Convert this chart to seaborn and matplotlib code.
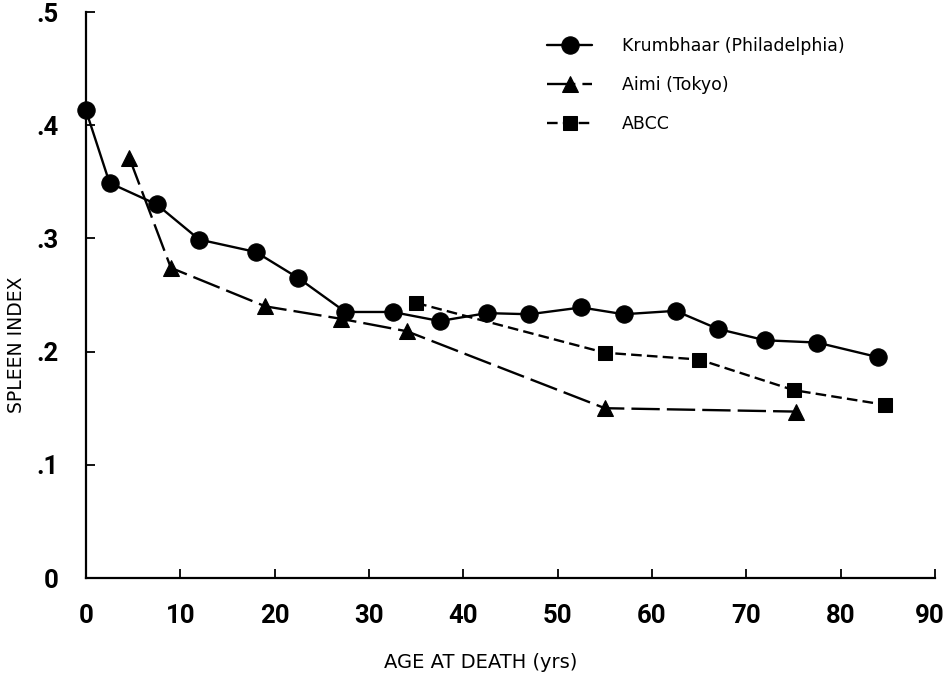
import matplotlib
matplotlib.use("Agg")
import matplotlib.pyplot as plt
import matplotlib.transforms as mtransforms
import seaborn as sns
import pandas as pd
from matplotlib.legend_handler import HandlerLine2D

# ---- data ----
krum_age = [0, 2.5, 7.5, 12, 18, 22.5, 27.5, 32.5, 37.5, 42.5, 47, 52.5, 57, 62.5, 67, 72, 77.5, 84]
krum_idx = [0.413, 0.349, 0.330, 0.299, 0.288, 0.265, 0.235, 0.235, 0.227, 0.234, 0.233, 0.239,
            0.233, 0.236, 0.220, 0.210, 0.208, 0.195]
aimi_age = [4.6, 9, 19, 27, 34, 55, 75.3]
aimi_idx = [0.371, 0.274, 0.240, 0.229, 0.218, 0.150, 0.147]
abcc_age = [35, 55, 65, 75, 84.7]
abcc_idx = [0.243, 0.199, 0.193, 0.166, 0.153]

series_names = ["Krumbhaar (Philadelphia)", "Aimi (Tokyo)", "ABCC"]
xticks = [0, 10, 20, 30, 40, 50, 60, 70, 80, 90]
xtick_labels = ["0", "10", "20", "30", "40", "50", "60", "70", "80", "90"]
yticks = [0, 0.1, 0.2, 0.3, 0.4, 0.5]
ytick_labels = ["0", ".1", ".2", ".3", ".4", ".5"]

df = pd.concat([
    pd.DataFrame({"age": krum_age, "idx": krum_idx, "src": series_names[0]}),
    pd.DataFrame({"age": aimi_age, "idx": aimi_idx, "src": series_names[1]}),
    pd.DataFrame({"age": abcc_age, "idx": abcc_idx, "src": series_names[2]}),
])

sns.set_style("ticks")
plt.rcParams["font.family"] = ["DejaVu Sans"]
plt.rcParams["text.color"] = "black"
plt.rcParams["axes.labelcolor"] = "black"
plt.rcParams["xtick.color"] = "black"
plt.rcParams["ytick.color"] = "black"

fig = plt.figure(figsize=(9.46, 6.77), dpi=100)
ax = fig.add_axes([86 / 946, 1 - 578 / 677, (935 - 86) / 946, (578 - 12) / 677])

styles = {
    series_names[0]: dict(marker="o", dashes="", ms=12.5),
    series_names[1]: dict(marker="^", dashes=(12, 3), ms=11),
    series_names[2]: dict(marker="s", dashes=(4.5, 2.2), ms=10),
}

for name in series_names:
    st = styles[name]
    sub = df[df["src"] == name]
    sns.lineplot(data=sub, x="age", y="idx", style="src",
                 markers={name: st["marker"]}, dashes={name: st["dashes"]},
                 color="black", markersize=st["ms"], markeredgecolor="black",
                 linewidth=1.7, estimator=None, sort=True, legend=False, ax=ax,
                 clip_on=False)

ax.set_xlim(0, 90)
ax.set_ylim(0, 0.5)
sns.despine(ax=ax)
for sp in ("left", "bottom"):
    ax.spines[sp].set_linewidth(1.6)
    ax.spines[sp].set_color("black")

tickfont = dict(family=["Roboto", "DejaVu Sans"], weight="bold", size=18.5)
ax.set_xticks(xticks)
ax.set_xticklabels(xtick_labels, fontdict=tickfont)
ax.set_yticks(yticks)
ax.set_yticklabels(ytick_labels, fontdict=tickfont)
ax.tick_params(axis="both", direction="in", length=6.5, width=1.3, color="black")
ax.tick_params(axis="x", pad=19)
ax.tick_params(axis="y", pad=20)

# last x label sits against the right edge as in the reference
last = ax.get_xticklabels()[-1]
last.set_horizontalalignment("right")
last.set_transform(last.get_transform() +
                   mtransforms.ScaledTranslation(10 / 100, 0, fig.dpi_scale_trans))

ax.set_xlabel("AGE AT DEATH (yrs)", fontsize=14)
ax.set_ylabel("SPLEEN INDEX", fontsize=13.5)
ax.xaxis.set_label_coords((481 - 86) / (935 - 86), -(653 - 578) / (578 - 12))
ax.yaxis.set_label_coords(-(86 - 26) / (935 - 86), (578 - 345) / (578 - 12))


class LeftMarkerHandler(HandlerLine2D):
    def get_xdata(self, legend, xdescent, ydescent, width, height, fontsize):
        return [-xdescent, -xdescent + width], [-xdescent]


handles = ax.get_lines()[:3]
leg = fig.legend(handles, series_names, loc="upper left",
                 bbox_to_anchor=(547 / 946, 1 - 37 / 677), frameon=False,
                 fontsize=12.5, handlelength=2.6, handletextpad=1.7,
                 labelspacing=1.22, borderpad=0, borderaxespad=0,
                 handler_map={h: LeftMarkerHandler(numpoints=1) for h in handles})

fig.savefig("out.png", dpi=100, facecolor="white")
